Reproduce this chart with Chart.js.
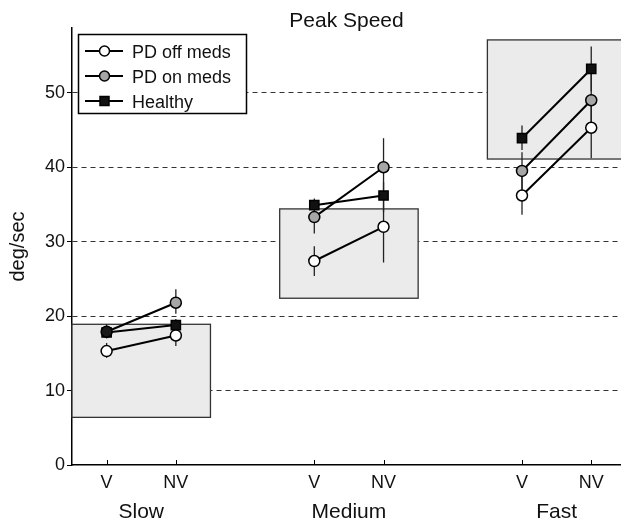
<!DOCTYPE html>
<html>
<head>
<meta charset="utf-8">
<script src="https://cdn.jsdelivr.net/npm/chart.js@4.4.1/dist/chart.umd.min.js"></script>
<style>
html, body { margin: 0; padding: 0; background: #fff; overflow: hidden; }
#wrap { width: 621px; height: 522px; position: relative; }
canvas { display: block; }
</style>
</head>
<body>
<div id="wrap"><canvas id="chart"></canvas></div>
<script>
// --- data ---
const tickPos = [1, 2, 4, 5, 7, 8];
const tickLabels = ['V', 'NV', 'V', 'NV', 'V', 'NV'];
const groups = ['Slow', 'Medium', 'Fast'];
const yTicks = [0, 10, 20, 30, 40, 50];

const offMeds = [15.3, 17.4, 27.4, 32.0, 36.2, 45.3];
const offLo   = [14.4, 16.0, 25.4, 27.2, 33.6, 41.2];
const offHi   = [16.4, 18.6, 29.4, 36.8, 38.8, 49.5];

const onMeds  = [17.9, 21.8, 33.3, 40.0, 39.5, 49.0];
const onLo    = [17.0, 20.3, 31.1, 36.1, 37.0, 45.0];
const onHi    = [18.9, 23.6, 35.5, 43.9, 42.0, 53.0];

const healthy = [17.8, 18.8, 34.9, 36.2, 43.9, 53.2];
const hLo     = [17.2, 18.0, 34.2, 34.0, 42.3, 50.2];
const hHi     = [18.6, 19.6, 35.8, 38.0, 45.6, 56.2];

// shaded ranges behind each speed group
const boxX0 = [0.5, 3.5, 6.5];
const boxX1 = [2.5, 5.5, 8.6];
const boxLo = [6.4, 22.4, 41.1];
const boxHi = [18.9, 34.4, 57.1];

const FONT = '"Liberation Sans", Arial, Helvetica, sans-serif';

// one line per group, broken between groups
function pts(vals) {
    const out = [];
    for (let g = 0; g < groups.length; g++) {
        out.push({ x: tickPos[2 * g], y: vals[2 * g] });
        out.push({ x: tickPos[2 * g + 1], y: vals[2 * g + 1] });
        out.push({ x: tickPos[2 * g + 1] + 0.5, y: null });
    }
    return out;
}

const series = [
    { label: 'PD off meds', vals: offMeds, lo: offLo, hi: offHi, style: 'circle', fill: '#ffffff' },
    { label: 'PD on meds',  vals: onMeds,  lo: onLo,  hi: onHi,  style: 'circle', fill: '#a6a6a6' },
    { label: 'Healthy',     vals: healthy, lo: hLo,   hi: hHi,   style: 'rect',   fill: '#111111' }
];

const decor = {
    id: 'decor',
    beforeDatasetsDraw(chart) {
        const { ctx, scales: { x, y } } = chart;
        ctx.save();
        // grey boxes
        for (let i = 0; i < boxX0.length; i++) {
            const l = x.getPixelForValue(boxX0[i]), r = x.getPixelForValue(boxX1[i]);
            const t = y.getPixelForValue(boxHi[i]), b = y.getPixelForValue(boxLo[i]);
            ctx.fillStyle = '#ebebeb';
            ctx.fillRect(l, t, r - l, b - t);
            ctx.strokeStyle = '#333';
            ctx.lineWidth = 1.3;
            ctx.strokeRect(l, t, r - l, b - t);
        }
        // error bars
        ctx.strokeStyle = '#222';
        ctx.lineWidth = 1.3;
        series.forEach(s => {
            for (let i = 0; i < tickPos.length; i++) {
                const px = x.getPixelForValue(tickPos[i]);
                ctx.beginPath();
                ctx.moveTo(px, y.getPixelForValue(s.lo[i]));
                ctx.lineTo(px, y.getPixelForValue(s.hi[i]));
                ctx.stroke();
            }
        });
        ctx.restore();
    },
    afterDraw(chart) {
        const { ctx, chartArea: a, scales: { x, y } } = chart;
        ctx.save();
        // inward x ticks
        ctx.strokeStyle = '#000';
        ctx.lineWidth = 1;
        tickPos.forEach(v => {
            const px = Math.round(x.getPixelForValue(v)) + 0.5;
            ctx.beginPath();
            ctx.moveTo(px, a.bottom);
            ctx.lineTo(px, a.bottom - 5);
            ctx.stroke();
        });
        // group names
        ctx.fillStyle = '#111';
        ctx.font = '21px ' + FONT;
        ctx.textAlign = 'center';
        ctx.textBaseline = 'alphabetic';
        groups.forEach((g, i) => {
            const px = x.getPixelForValue((tickPos[2 * i] + tickPos[2 * i + 1]) / 2);
            ctx.fillText(g, px, 518);
        });
        // title
        ctx.fillText('Peak Speed', (a.left + a.right) / 2, 27);
        // y title
        ctx.save();
        ctx.translate(18, (a.top + a.bottom) / 2);
        ctx.rotate(-Math.PI / 2);
        ctx.textBaseline = 'middle';
        ctx.font = '20px ' + FONT;
        ctx.fillText('deg/sec', 0, 0);
        ctx.restore();
        // legend
        const lx = 78.5, ly = 34.5, lw = 168, lh = 79;
        ctx.fillStyle = '#fff';
        ctx.fillRect(lx, ly, lw, lh);
        ctx.strokeStyle = '#000';
        ctx.lineWidth = 1.5;
        ctx.strokeRect(lx, ly, lw, lh);
        ctx.font = '18px ' + FONT;
        ctx.textAlign = 'left';
        series.forEach((s, i) => {
            const cy = 51 + i * 25;
            ctx.strokeStyle = '#000';
            ctx.lineWidth = 2;
            ctx.beginPath();
            ctx.moveTo(85, cy);
            ctx.lineTo(123, cy);
            ctx.stroke();
            ctx.fillStyle = s.fill;
            ctx.lineWidth = 1.5;
            ctx.beginPath();
            if (s.style === 'circle') {
                ctx.arc(104.5, cy, 5, 0, Math.PI * 2);
            } else {
                ctx.rect(100, cy - 4.5, 9, 9);
            }
            ctx.fill();
            ctx.stroke();
            ctx.fillStyle = '#111';
            ctx.textBaseline = 'alphabetic';
            ctx.fillText(s.label, 132, cy + 7);
        });
        ctx.restore();
    }
};

new Chart(document.getElementById('chart'), {
    type: 'line',
    data: {
        datasets: series.map(s => ({
            label: s.label,
            data: pts(s.vals),
            borderColor: '#000',
            borderWidth: 2,
            spanGaps: false,
            pointStyle: s.style,
            pointRadius: s.style === 'rect' ? 6.5 : 5.5,
            // the Slow/V "on meds" marker sits under the Healthy square and prints dark
            pointBackgroundColor: s.label === 'PD on meds'
                ? pts(s.vals).map((p, i) => i === 0 ? '#1a1a1a' : s.fill)
                : s.fill,
            pointBorderColor: '#000',
            pointBorderWidth: 1.5,
            pointHoverRadius: 6
        }))
    },
    options: {
        responsive: true,
        maintainAspectRatio: false,
        animation: false,
        layout: { autoPadding: false, padding: { top: 28, left: 0, right: 0, bottom: 0 } },
        plugins: { legend: { display: false }, tooltip: { enabled: false } },
        scales: {
            x: {
                type: 'linear',
                min: 0.5,
                max: 8.43,
                afterBuildTicks: axis => { axis.ticks = tickPos.map(v => ({ value: v })); },
                afterFit: axis => { axis.height = 57; axis.paddingLeft = 0; axis.paddingRight = 0; },
                grid: { drawOnChartArea: false, drawTicks: false },
                border: { color: '#000', width: 1.5 },
                ticks: {
                    padding: 7,
                    maxRotation: 0,
                    autoSkip: false,
                    color: '#111',
                    font: { family: FONT, size: 18 },
                    callback: (v, i) => tickLabels[i]
                }
            },
            y: {
                min: 0,
                max: 58.7,
                afterBuildTicks: axis => { axis.ticks = yTicks.map(v => ({ value: v })); },
                afterFit: axis => { axis.width = 72; axis.paddingTop = 0; axis.paddingBottom = 0; },
                grid: {
                    color: c => (c.tick && c.tick.value === 0) ? 'rgba(0,0,0,0)' : '#333',
                    lineWidth: 1,
                    tickColor: '#000',
                    tickLength: 5,
                    tickBorderDash: []
                },
                border: { color: '#000', width: 1.5, dash: [5, 4] },
                ticks: {
                    padding: 2,
                    color: '#111',
                    font: { family: FONT, size: 18 }
                }
            }
        }
    },
    plugins: [decor]
});
</script>
</body>
</html>
